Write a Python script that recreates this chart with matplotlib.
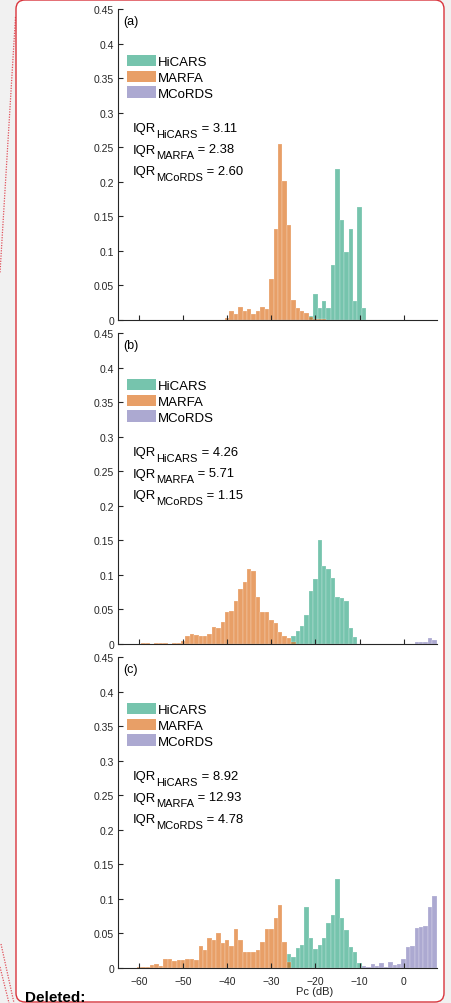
import numpy as np
import matplotlib
matplotlib.use("Agg")
import matplotlib.pyplot as plt
from matplotlib.colors import to_rgb
from matplotlib.patches import FancyBboxPatch, Patch
from matplotlib.lines import Line2D

plt.rcParams['font.family'] = ['Liberation Sans', 'DejaVu Sans']

# histogram values, 1 dB bins centred on integers (first bin centre given)
a_hicars_start = -21
a_hicars = [0.006, 0.038, 0.017, 0.027, 0.018, 0.080, 0.219, 0.144, 0.098,
            0.132, 0.027, 0.163, 0.018]
a_marfa_start = -40
a_marfa = [0.003, 0.0125, 0.0087, 0.019, 0.013, 0.016, 0.0087, 0.0125, 0.019,
           0.016, 0.059, 0.132, 0.254, 0.201, 0.138, 0.029, 0.017, 0.013,
           0.010, 0.005, 0.002, 0.001, 0.002]

b_hicars_start = -25
b_hicars = [0.0115, 0.019, 0.026, 0.042, 0.077, 0.094, 0.150, 0.113, 0.108,
            0.096, 0.068, 0.067, 0.0615, 0.0226, 0.0096]
b_marfa_start = -59
b_marfa = [0.0015, 0.0015, 0.0, 0.001, 0.001, 0.001, 0.0, 0.0015, 0.0015,
           0.005, 0.012, 0.014, 0.013, 0.011, 0.011, 0.015, 0.024, 0.023,
           0.032, 0.047, 0.048, 0.0625, 0.080, 0.090, 0.109, 0.106, 0.068,
           0.046, 0.047, 0.035, 0.030, 0.018, 0.011, 0.009, 0.0024]
b_mcords_start = 3
b_mcords = [0.0024, 0.0024, 0.0024, 0.0087, 0.0058]

c_hicars_start = -26
c_hicars = [0.0197, 0.0154, 0.029, 0.034, 0.088, 0.043, 0.028, 0.033, 0.043,
            0.065, 0.077, 0.129, 0.072, 0.055, 0.030, 0.023, 0.0072]
c_marfa_start = -60
c_marfa = [0.0015, 0.0015, 0.0015, 0.004, 0.006, 0.0035, 0.013, 0.013, 0.0096,
           0.0115, 0.0115, 0.013, 0.013, 0.0115, 0.032, 0.026, 0.043, 0.040,
           0.051, 0.036, 0.041, 0.032, 0.057, 0.041, 0.0226, 0.0226, 0.0226,
           0.026, 0.038, 0.057, 0.057, 0.072, 0.091, 0.038, 0.009]
c_mcords_start = -9
c_mcords = [0.0024, 0.0014, 0.0058, 0.0034, 0.0067, 0.0014, 0.0082, 0.0048,
            0.0058, 0.013, 0.030, 0.032, 0.058, 0.059, 0.0605, 0.088, 0.104]

iqr_a = ['3.11', '2.38', '2.60']
iqr_b = ['4.26', '5.71', '1.15']
iqr_c = ['8.92', '12.93', '4.78']

names = ['HiCARS', 'MARFA', 'MCoRDS']
colors = ['#1b9e77', '#d95f02', '#7570b3']
yticks = [0, 0.05, 0.1, 0.15, 0.2, 0.25, 0.3, 0.35, 0.4, 0.45]
yticklabels = ['0', '0.05', '0.1', '0.15', '0.2', '0.25', '0.3', '0.35', '0.4', '0.45']
xticks = [-60, -50, -40, -30, -20, -10, 0]

W, H = 452, 1004
fig = plt.figure(figsize=(W / 100, H / 100), dpi=100)
fig.patch.set_facecolor('#f1f1f1')

# comment balloon behind the chart
box = FancyBboxPatch((0.16, 0.01), 4.28, 10.02,
                     boxstyle="round,pad=0,rounding_size=0.09",
                     transform=fig.dpi_scale_trans, facecolor='white',
                     edgecolor='#d9343c', linewidth=1.0, zorder=-10)
fig.patches.append(box)
for (x0, y0), (x1, y1) in [((15.5, 18), (0, 274)), ((1, 945), (14, 1004)),
                           ((0, 968), (9, 1004))]:
    fig.lines.append(Line2D([x0 / 100, x1 / 100], [(H - y0) / 100, (H - y1) / 100],
                            transform=fig.dpi_scale_trans, color='#e0505a',
                            linewidth=0.9, linestyle=(0, (1, 1.1)), zorder=-10))
fig.text(25 / W, (H - 1002) / H, 'Deleted:', fontsize=11, fontweight='bold',
         color='black', va='baseline', ha='left')

panels = [
    ('(a)', [(a_hicars_start, a_hicars), (a_marfa_start, a_marfa), None], iqr_a),
    ('(b)', [(b_hicars_start, b_hicars), (b_marfa_start, b_marfa),
             (b_mcords_start, b_mcords)], iqr_b),
    ('(c)', [(c_hicars_start, c_hicars), (c_marfa_start, c_marfa),
             (c_mcords_start, c_mcords)], iqr_c),
]

left = 118.3 / W
width = (436.7 - 118.3) / W
bottoms_px = [321, 645, 969]
height = 311 / H
main_fs, sub_fs = 9.4, 8.0

for i, (label, series, iqr) in enumerate(panels):
    ax = fig.add_axes([left, (H - bottoms_px[i]) / H, width, height])
    ax.patch.set_alpha(0)
    for s, col in zip(series, colors):
        if s is None:
            continue
        start, vals = s
        centers = np.arange(start, start + len(vals))
        ax.bar(centers, vals, width=1.0, color=(*to_rgb(col), 0.6),
               edgecolor=(1, 1, 1, 0.45), linewidth=0.35)
    ax.set_xlim(-64.7, 7.5)
    ax.set_ylim(0, 0.45)
    ax.set_yticks(yticks)
    ax.set_yticklabels(yticklabels)
    ax.set_xticks(xticks)
    for sp in ['top', 'right']:
        ax.spines[sp].set_visible(False)
    for sp in ['left', 'bottom']:
        ax.spines[sp].set_color('#262626')
        ax.spines[sp].set_linewidth(0.8)
    ax.tick_params(direction='in', length=3.5, width=0.8, color='#262626',
                   labelsize=7.5, labelcolor='#262626', pad=3)
    ax.tick_params(axis='x', pad=6)
    if i < 2:
        ax.set_xticklabels([])
    else:
        ax.set_xlabel('Pc (dB)', fontsize=8, color='#262626')
        ax.xaxis.set_label_coords((315 - 118.3) / 318.4, -0.057)

    ax.text(0.015, 0.952, label, transform=ax.transAxes, fontsize=9,
            va='baseline', ha='left')

    handles = [Patch(facecolor=c, alpha=0.6, edgecolor='none') for c in colors]
    ax.legend(handles, names, loc='upper left', bbox_to_anchor=(0.027, 0.853),
              frameon=False, fontsize=9.5, handlelength=2.2, handleheight=0.95,
              labelspacing=0.2, handletextpad=0.15, borderpad=0,
              borderaxespad=0)

    # IQR lines: main text, lowered subscript, then value
    for k, (nm, v) in enumerate(zip(names, iqr)):
        t1 = ax.text(0.046, 0.607 - k * 0.0685, 'IQR', transform=ax.transAxes,
                     fontsize=main_fs, va='baseline', ha='left')
        t2 = ax.annotate(nm, xy=(1, 0), xycoords=t1, xytext=(0, -2.1),
                         textcoords='offset points', fontsize=sub_fs,
                         va='baseline', ha='left')
        ax.annotate(' = ' + v, xy=(1, 0), xycoords=t2, xytext=(0, 5.8),
                    textcoords='offset points', fontsize=main_fs,
                    va='baseline', ha='left')

fig.savefig('out.png', dpi=100, facecolor=fig.get_facecolor())
